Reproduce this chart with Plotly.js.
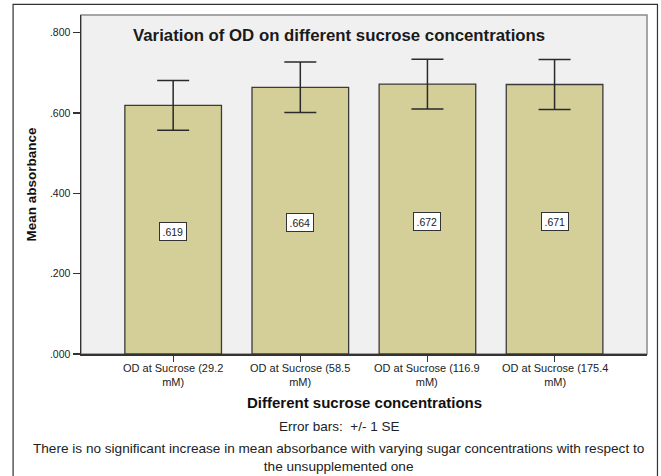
<!DOCTYPE html>
<html>
<head>
<meta charset="utf-8">
<script src="https://cdn.plot.ly/plotly-3.0.1.min.js"></script>
<style>
html,body{margin:0;padding:0;background:#fff;}
#chart{width:661px;height:476px;}
</style>
</head>
<body>
<div id="chart"></div>
<script>
var categories = ["OD at Sucrose (29.2 mM)", "OD at Sucrose (58.5 mM)", "OD at Sucrose (116.9 mM)", "OD at Sucrose (175.4 mM)"];
var tickLabels = ["OD at Sucrose (29.2<br>mM)", "OD at Sucrose (58.5<br>mM)", "OD at Sucrose (116.9<br>mM)", "OD at Sucrose (175.4<br>mM)"];
var meanValues = [0.619, 0.664, 0.672, 0.671];
var seValues = [0.062, 0.063, 0.062, 0.062];
var valueLabels = [".619", ".664", ".672", ".671"];
var yTickVals = [0, 0.2, 0.4, 0.6, 0.8];
var yTickText = [".000", ".200", ".400", ".600", ".800"];

var FONT = "Arial, 'Liberation Sans', sans-serif";

var trace = {
  type: "bar",
  x: categories,
  y: meanValues,
  marker: {color: "#D4CF98", line: {color: "#3a3a3a", width: 1.3}},
  error_y: {type: "data", array: seValues, visible: true, color: "#2a2a2a", thickness: 1.5, width: 16},
  hoverinfo: "none"
};

var annotations = [];
categories.forEach(function (c, i) {
  annotations.push({
    x: c, y: meanValues[i] / 2, xref: "x", yref: "y",
    text: valueLabels[i], showarrow: false, yshift: -2,
    font: {family: FONT, size: 10.5, color: "#222"},
    bgcolor: "#ffffff", bordercolor: "#333", borderwidth: 1, borderpad: 2.5
  });
  annotations.push({
    x: c, y: -0.062, xref: "x", yref: "paper", yanchor: "middle",
    text: tickLabels[i], showarrow: false, align: "center", borderpad: 0,
    font: {family: FONT, size: 11, color: "#222"}
  });
});

annotations.push({
  text: "Variation of OD on different sucrose concentrations",
  xref: "paper", yref: "paper", x: 0.455, y: 0.941, xanchor: "center", yanchor: "middle",
  showarrow: false, font: {family: FONT, size: 16.8, color: "#1a1a1a", weight: "bold"}
});
annotations.push({
  text: "Different sucrose concentrations",
  xref: "paper", yref: "paper", x: 0.5, y: -0.1416, xanchor: "center", yanchor: "middle",
  showarrow: false, font: {family: FONT, size: 15, color: "#111", weight: "bold"}
});
annotations.push({
  text: "Error bars:  +/- 1 SE",
  xref: "paper", yref: "paper", x: 0.455, y: -0.2153, xanchor: "center", yanchor: "middle",
  showarrow: false, font: {family: FONT, size: 13.5, color: "#222"}
});
annotations.push({
  text: "There is no significant increase in mean absorbance with varying sugar concentrations with respect to<br>the unsupplemented one",
  xref: "paper", yref: "paper", x: 0.455, y: -0.306, xanchor: "center", yanchor: "middle",
  showarrow: false, align: "center", borderpad: 0, font: {family: FONT, size: 13.6, color: "#222"}
});

var layout = {
  width: 661, height: 476,
  margin: {l: 81, r: 14, t: 15, b: 122, pad: 0},
  paper_bgcolor: "#ffffff",
  plot_bgcolor: "#F0F0F0",
  showlegend: false,
  bargap: 0.24,
  font: {family: FONT, color: "#222"},
  xaxis: {
    type: "category",
    range: [-0.725, 3.727],
    showline: true, linecolor: "#333", linewidth: 1.5,
    ticks: "outside", ticklen: 6, tickcolor: "#333", tickwidth: 1.3,
    showgrid: false, zeroline: false,
    showticklabels: false
  },
  yaxis: {
    range: [0, 0.844],
    tickvals: yTickVals, ticktext: yTickText,
    showline: true, linecolor: "#333", linewidth: 1.5,
    ticks: "outside", ticklen: 7, tickcolor: "#333", tickwidth: 1.3,
    showgrid: false, zeroline: false,
    tickfont: {family: FONT, size: 10.5, color: "#222"},
    title: {text: "Mean absorbance", font: {family: FONT, size: 13.5, color: "#111", weight: "bold"}, standoff: 10}
  },
  annotations: annotations,
  shapes: [
    {type: "rect", xref: "paper", yref: "paper", x0: 0, x1: 1, y0: 0, y1: 1,
     line: {color: "#8a8a8a", width: 1.5}, fillcolor: "rgba(0,0,0,0)", layer: "below"},
    {type: "rect", xref: "paper", yref: "paper", x0: -0.12, x1: 1.0185, y0: -0.4, y1: 1.0315,
     line: {color: "#333", width: 1.2}, fillcolor: "rgba(0,0,0,0)", layer: "below"}
  ]
};

Plotly.newPlot("chart", [trace], layout, {displayModeBar: false, staticPlot: true});
</script>
</body>
</html>
